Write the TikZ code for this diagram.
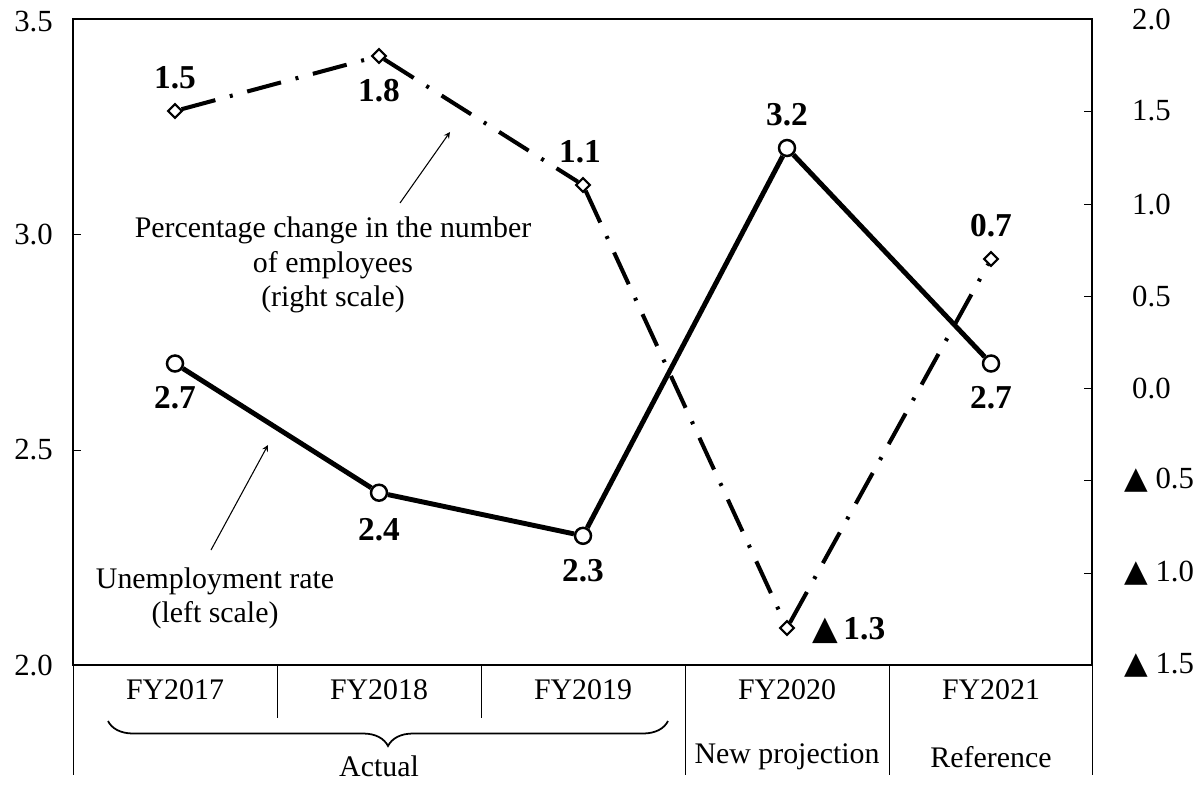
\documentclass[tikz,border=0pt]{standalone}
\usepackage{fontspec}
\setmainfont{Liberation Serif}
\newfontfamily\symfont{DejaVu Sans}
\usetikzlibrary{shapes.geometric,decorations.pathreplacing}

\begin{document}
\begin{tikzpicture}[x=0.2mm,y=-0.2mm]
        % Define styles
        \tikzset{
            frame/.style={line width=1.4pt},
            cell line/.style={line width=0.5pt},
            axis label/.style={font=\fontsize{17.5}{20}\selectfont},
            cat label/.style={font=\fontsize{17}{20}\selectfont},
            value label/.style={font=\fontsize{19}{21}\selectfont\bfseries},
            note/.style={font=\fontsize{17}{19.5}\selectfont, align=center},
            unemp point/.style={circle, draw, fill=white, line width=1.4pt, minimum size=3.2mm, inner sep=0pt},
            emp point/.style={diamond, draw, fill=white, line width=1.2pt, minimum size=2.9mm, inner sep=0pt},
            unemp line/.style={line width=2.8pt},
            emp line/.style={line width=2.3pt, dash pattern=on 7mm off 3mm on 0.6mm off 3mm},
            arrow/.style={->,>=stealth, line width=0.6pt}
        }
        \useasboundingbox (0,0) rectangle (1200,785);

        % Frame and cells
        \coordinate (frame_nw) at (73,19);
        \coordinate (frame_se) at (1092,665);
        \draw[frame] (frame_nw) rectangle (frame_se);
        \foreach \x in {73,685,889,1092}
            \draw[cell line] (\x,665) -- (\x,775);
        \foreach \x in {277,481}
            \draw[cell line] (\x,665) -- (\x,718);

        % Ticks
        \foreach \y in {234,450}
            \draw[cell line] (73,\y) -- (81,\y);
        \foreach \y in {111,204,296,388,480,573}
            \draw[cell line] (1084,\y) -- (1092,\y);

        % Left scale
        \node[axis label, anchor=east] (left_35) at (59,22) {3.5};
        \node[axis label, anchor=east] (left_30) at (59,234) {3.0};
        \node[axis label, anchor=east] (left_25) at (59,450) {2.5};
        \node[axis label, anchor=east] (left_20) at (59,665) {2.0};

        % Right scale
        \node[axis label, anchor=west] (right_20) at (1126,19) {2.0};
        \node[axis label, anchor=west] (right_15) at (1126,111) {1.5};
        \node[axis label, anchor=west] (right_10) at (1126,204) {1.0};
        \node[axis label, anchor=west] (right_05) at (1126,296) {0.5};
        \node[axis label, anchor=west] (right_00) at (1126,388) {0.0};
        \node[axis label, anchor=west] (right_m05) at (1118,480) {{\symfont ▲} 0.5};
        \node[axis label, anchor=west] (right_m10) at (1118,573) {{\symfont ▲} 1.0};
        \node[axis label, anchor=west] (right_m15) at (1118,665) {{\symfont ▲} 1.5};

        % Categories
        \node[cat label] (cat_2017) at (175,690) {FY2017};
        \node[cat label] (cat_2018) at (379,690) {FY2018};
        \node[cat label] (cat_2019) at (583,690) {FY2019};
        \node[cat label] (cat_2020) at (787,690) {FY2020};
        \node[cat label] (cat_2021) at (991,690) {FY2021};
        \node[cat label] (cat_new) at (787,757) {New projection};
        \node[cat label] (cat_ref) at (991,757) {Reference};
        \node[cat label] (cat_actual) at (379,766) {Actual};
        \coordinate (brace_left) at (108,721);
        \coordinate (brace_right) at (668,721);
        \draw[line width=1pt, decorate, decoration={brace, mirror, amplitude=5mm}] (brace_left) -- (brace_right);

        % Employees (right scale)
        \node[emp point] (emp_1) at (175,111) {};
        \node[emp point] (emp_2) at (379,56) {};
        \node[emp point] (emp_3) at (583,185) {};
        \node[emp point] (emp_4) at (787,628) {};
        \node[emp point] (emp_5) at (991,259) {};
        \draw[emp line] (emp_1) -- (emp_2) -- (emp_3) -- (emp_4) -- (emp_5);

        % Unemployment rate (left scale)
        \node[unemp point] (unemp_1) at (175,363.5) {};
        \node[unemp point] (unemp_2) at (379,492.7) {};
        \node[unemp point] (unemp_3) at (583,535.8) {};
        \node[unemp point] (unemp_4) at (787,148) {};
        \node[unemp point] (unemp_5) at (991,363.5) {};
        \draw[unemp line] (unemp_1) -- (unemp_2) -- (unemp_3) -- (unemp_4) -- (unemp_5);

        % Values
        \node[value label] (val_emp_1) at (175,78) {1.5};
        \node[value label] (val_emp_2) at (379,91) {1.8};
        \node[value label] (val_emp_3) at (580,152) {1.1};
        \node[value label, anchor=west] (val_emp_4) at (806,630) {{\mdseries\symfont ▲}\,1.3};
        \node[value label] (val_emp_5) at (991,226) {0.7};
        \node[value label] (val_unemp_1) at (175,398) {2.7};
        \node[value label] (val_unemp_2) at (379,530) {2.4};
        \node[value label] (val_unemp_3) at (583,571) {2.3};
        \node[value label] (val_unemp_4) at (787,115) {3.2};
        \node[value label] (val_unemp_5) at (991,398) {2.7};

        % Notes
        \node[note] (note_emp) at (333,265) {Percentage change in the number\\of employees\\(right scale)};
        \coordinate (note_emp_tail) at (400,203);
        \coordinate (note_emp_head) at (450,132);
        \draw[arrow] (note_emp_tail) -- (note_emp_head);
        \node[note] (note_unemp) at (215,598) {Unemployment rate\\(left scale)};
        \coordinate (note_unemp_tail) at (211,550);
        \coordinate (note_unemp_head) at (268,445);
        \draw[arrow] (note_unemp_tail) -- (note_unemp_head);
\end{tikzpicture}
\end{document}
